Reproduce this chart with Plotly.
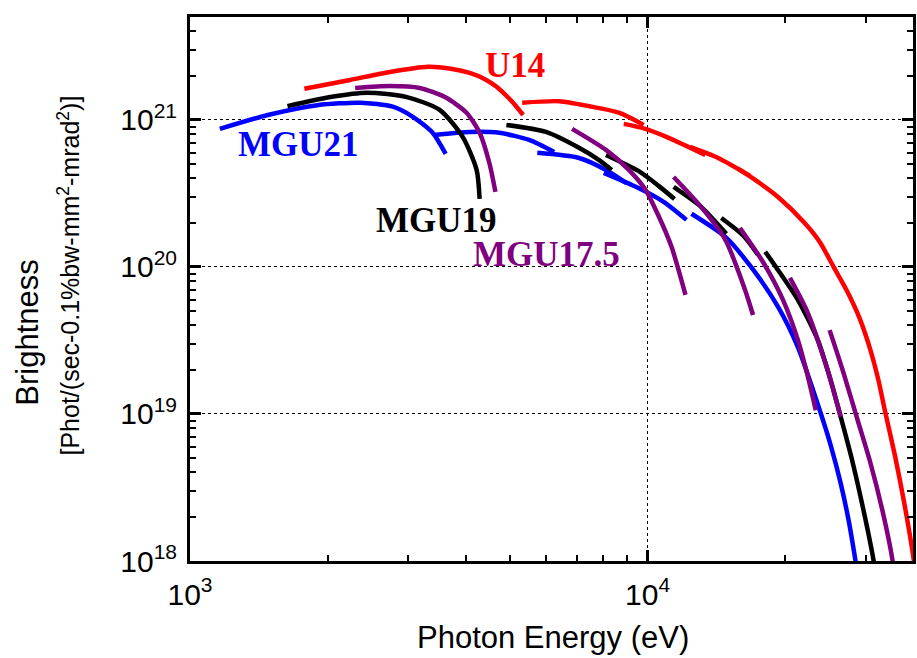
import plotly.graph_objects as go

# ---------------- data (photon energy in eV, brightness) ----------------
u14_E = [
    [1778, 2239, 2735, 3311, 3687, 4085, 4401, 4677, 4913, 5139, 5346],
    [5320, 6412, 7452, 8654, 9800],
    [8870, 9900, 11120, 13370],
    [12390, 14260, 16750],
    [15780, 17180, 19280, 22040, 23780, 25500, 27350, 29040, 30690, 31940, 33080, 34770, 36380, 38060, 38640],
]
u14_B = [
    [1.63e21, 1.87e21, 2.12e21, 2.30e21, 2.24e21, 2.09e21, 1.90e21, 1.68e21, 1.46e21, 1.26e21, 1.08e21],
    [1.31e21, 1.34e21, 1.24e21, 1.12e21, 9.25e20],
    [9.4e20, 8.69e20, 7.55e20, 5.78e20],
    [6.55e20, 5.51e20, 4.16e20],
    [4.64e20, 3.91e20, 2.99e20, 1.99e20, 1.48e20, 1.0e20, 6.76e19, 4.50e19, 2.72e19, 1.70e19, 1.02e19,
     5.09e18, 2.48e18, 1.08e18, 7.4e17],
]

mgu21_E = [
    [1162, 1479, 1898, 2354, 2774, 3069, 3390, 3620],
    [3428, 4085, 4745, 5510, 6250],
    [5740, 7080, 8110, 8990],
    [8020, 9550, 10840, 12160],
    [12470, 14790, 16830, 19280, 21290, 23880, 25120, 26410, 27490, 28330, 28770],
]
mgu21_B = [
    [8.69e20, 1.08e21, 1.26e21, 1.31e21, 1.23e21, 1.05e21, 8.17e20, 5.87e20],
    [7.91e20, 8.28e20, 8.17e20, 7.31e20, 6.05e20],
    [5.97e20, 5.51e20, 4.57e20, 3.72e20],
    [4.36e20, 3.44e20, 2.77e20, 2.09e20],
    [2.30e20, 1.60e20, 1.0e20, 5.35e19, 2.86e19, 1.02e19, 6.15e18, 3.40e18, 1.90e18, 1.10e18, 8.0e17],
]

mgu19_E = [
    [1633, 2027, 2438, 2978, 3512, 3943, 4230, 4295],
    [4913, 5996, 7080, 7820, 8350],
    [8110, 9550, 10570, 11450],
    [11400, 13090, 14860],
    [14490, 16190, 17420],
    [18070, 19070, 21300, 23540, 25120, 26280, 27910, 29630, 31160, 31620],
]
mgu19_B = [
    [1.24e21, 1.43e21, 1.53e21, 1.43e21, 1.17e21, 7.66e20, 4.57e20, 2.90e20],
    [9.25e20, 8.28e20, 6.46e20, 5.35e20, 4.57e20],
    [5.78e20, 4.50e20, 3.56e20, 2.90e20],
    [3.50e20, 2.56e20, 1.68e20],
    [2.15e20, 1.63e20, 1.21e20],
    [1.27e20, 1.0e20, 5.97e19, 3.19e19, 1.70e19, 1.02e19, 5.02e18, 2.22e18, 1.02e18, 7.6e17],
]

mgu175_E = [
    [2296, 2735, 3177, 3606, 4020, 4295, 4510, 4650],
    [6839, 8110, 9100, 9900, 10570, 11280, 12100],
    [11400, 13090, 14790, 16330, 17000],
    [15920, 17870, 19760, 21300, 22500, 23310],
    [20470, 22400, 24730, 26420],
    [24990, 26680, 28770, 30690, 32580, 34280, 34600],
]
mgu175_B = [
    [1.65e21, 1.70e21, 1.65e21, 1.43e21, 1.12e21, 8.17e20, 5.09e20, 3.24e20],
    [8.69e20, 6.25e20, 4.57e20, 3.34e20, 2.22e20, 1.37e20, 6.46e19],
    [4.09e20, 2.56e20, 1.53e20, 6.98e19, 4.71e19],
    [1.84e20, 1.08e20, 5.97e19, 3.19e19, 1.70e19, 1.06e19],
    [8.42e19, 4.86e19, 1.99e19, 9.56e18],
    [3.72e19, 1.99e19, 9.1e18, 4.64e18, 2.22e18, 1.02e18, 8.0e17],
]

series = [
    ("MGU21", mgu21_E, mgu21_B, "#0000FF"),
    ("MGU19", mgu19_E, mgu19_B, "#000000"),
    ("MGU17.5", mgu175_E, mgu175_B, "#800080"),
    ("U14", u14_E, u14_B, "#FF0000"),
]

x_ticks = [1e3, 1e4]
x_ticktext = ["10<sup>3</sup>", "10<sup>4</sup>"]
y_ticks = [1e18, 1e19, 1e20, 1e21]
y_ticktext = ["10<sup>18</sup>", "10<sup>19</sup>", "10<sup>20</sup>", "10<sup>21</sup>"]

# ---------------- figure ----------------
fig = go.Figure()
for name, Es, Bs, col in series:
    for E, B in zip(Es, Bs):
        fig.add_trace(go.Scatter(
            x=E, y=B, mode="lines", name=name, showlegend=False,
            line=dict(color=col, width=4.5, shape="spline", smoothing=0.7),
            hoverinfo="skip",
        ))

x_minor = [m * 10.0**d for d in (3, 4) for m in range(2, 10) if m * 10.0**d < 4e4]
y_minor = [m * 10.0**d for d in (18, 19, 20, 21) for m in range(2, 10) if m * 10.0**d < 5e21]

sans = "Liberation Sans, Arial, Helvetica, sans-serif"
tick_font = dict(family=sans, size=30, color="black")
axis_common = dict(
    type="log", showline=True, linewidth=3, linecolor="black", mirror="ticks",
    ticks="inside", ticklen=11, tickwidth=2.5, tickcolor="black",
    showgrid=True, gridcolor="black", gridwidth=1, griddash="dot",
    zeroline=False, tickfont=tick_font,
)

fig.update_xaxes(
    **axis_common, range=[3, 4.58], tickmode="array", tickvals=x_ticks, ticktext=x_ticktext,
    ticklabelstandoff=5,
    minor=dict(tickmode="array", tickvals=x_minor, ticks="inside", ticklen=6, tickwidth=2,
               tickcolor="black", showgrid=False),
)
fig.update_yaxes(
    **axis_common, range=[18, 21.70], tickmode="array", tickvals=y_ticks, ticktext=y_ticktext,
    ticklabelstandoff=4,
    minor=dict(tickmode="array", tickvals=y_minor, ticks="inside", ticklen=6, tickwidth=2,
               tickcolor="black", showgrid=False),
)

lab_font = "Liberation Serif, Times New Roman, serif"
labels = [
    ("U14", 3.711, 21.367, "#FF0000"),
    ("MGU21", 3.237, 20.830, "#0000FF"),
    ("MGU19", 3.539, 20.313, "#000000"),
    ("MGU17.5", 3.778, 20.082, "#800080"),
]
for txt, lx, ly, col in labels:
    fig.add_annotation(x=lx, y=ly, xref="x", yref="y", text="<b>%s</b>" % txt,
                       showarrow=False, font=dict(family=lab_font, size=35, color=col))

fig.add_annotation(x=(555 - 190) / 726, y=(561 - 637) / 544, xref="paper", yref="paper",
                   text="Photon Energy (eV)", showarrow=False,
                   font=dict(family=sans, size=31, color="black"),
                   xanchor="center", yanchor="middle")
fig.add_annotation(x=(27 - 190) / 726, y=(561 - 333) / 544, xref="paper", yref="paper",
                   text="Brightness", showarrow=False,
                   font=dict(family=sans, size=31, color="black"), textangle=-90,
                   xanchor="center", yanchor="middle")
fig.add_annotation(x=(68 - 190) / 726, y=(561 - 276) / 544, xref="paper", yref="paper",
                   text="[Phot/(sec-0.1%bw-mm<sup>2</sup>-mrad<sup>2</sup>)]", showarrow=False,
                   font=dict(family=sans, size=25, color="black"), textangle=-90,
                   xanchor="center", yanchor="middle")

fig.update_layout(
    width=917, height=658,
    margin=dict(l=190, r=1, t=17, b=97),
    paper_bgcolor="white", plot_bgcolor="white",
    showlegend=False,
)

fig.write_html("out.html")
